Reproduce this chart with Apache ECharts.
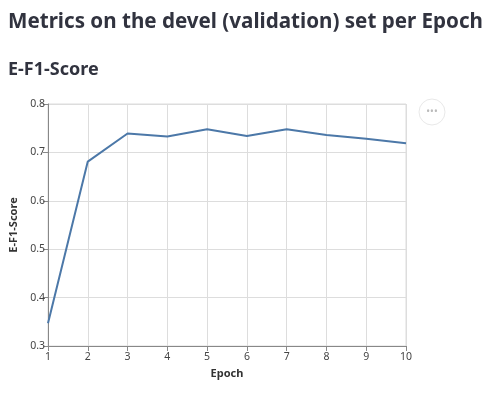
<!DOCTYPE html>
<html lang="en">
<head>
    <meta charset="UTF-8">
    <title>E-F1-Score</title>
    <script src="https://cdn.jsdelivr.net/npm/echarts@6/dist/echarts.min.js"></script>
    <style>
        body { margin: 0; background: #fff; }
        #main { width: 500px; height: 399px; }
    </style>
</head>
<body>
    <div id="main"></div>
    <script>
        var epochs = [1, 2, 3, 4, 5, 6, 7, 8, 9, 10];
        var f1Scores = [0.347, 0.681, 0.739, 0.733, 0.748, 0.734, 0.748, 0.736, 0.728, 0.719];
        var yTicks = [0.3, 0.4, 0.5, 0.6, 0.7, 0.8];

        var myChart = echarts.init(document.getElementById('main'));
        var font = '"Noto Sans", sans-serif';
        var option = {
            animation: false,
            title: [
                {
                    text: 'Metrics on the devel (validation) set per Epoch',
                    left: 3, top: 7,
                    textStyle: { fontFamily: font, fontSize: 20.6, fontWeight: 'bold', color: '#31333f' }
                },
                {
                    text: 'E-F1-Score',
                    left: 3, top: 56,
                    textStyle: { fontFamily: font, fontSize: 18, fontWeight: 'bold', color: '#31333f' }
                }
            ],
            grid: { left: 48, right: 94, top: 104, bottom: 53 },
            xAxis: {
                type: 'value', min: 1, max: 10, interval: 1,
                name: 'Epoch', nameLocation: 'middle', nameGap: 22,
                nameTextStyle: { fontFamily: font, fontSize: 11, fontWeight: 'bold', color: '#333' },
                axisLine: { lineStyle: { color: '#888' } },
                axisTick: { length: 5, lineStyle: { color: '#888' } },
                axisLabel: { fontFamily: font, fontSize: 10.5, color: '#444', margin: 6 },
                splitLine: { lineStyle: { color: '#ddd' } }
            },
            yAxis: {
                type: 'value', min: yTicks[0], max: yTicks[yTicks.length - 1], interval: 0.1,
                name: 'E-F1-Score', nameLocation: 'middle', nameGap: 27,
                nameTextStyle: { fontFamily: font, fontSize: 11, fontWeight: 'bold', color: '#333' },
                axisLine: { show: true, lineStyle: { color: '#888' } },
                axisTick: { show: true, length: 5, lineStyle: { color: '#888' } },
                axisLabel: { fontFamily: font, fontSize: 10.5, color: '#444', margin: 3, formatter: v => v.toFixed(1) },
                splitLine: { lineStyle: { color: '#ddd' } }
            },
            graphic: [
                {
                    type: 'rect', shape: { x: 48, y: 104, width: 358, height: 242 },
                    style: { fill: 'none', stroke: '#ddd', lineWidth: 1 }, silent: true, z: -1
                },
                {
                    type: 'circle', shape: { cx: 432, cy: 112, r: 13 },
                    style: { fill: '#fff', stroke: '#e8e8e8', lineWidth: 1 }
                },
                {
                    type: 'text', x: 432, y: 112,
                    style: { text: '•••', fill: '#bbb', fontSize: 10, fontFamily: font, align: 'center', verticalAlign: 'middle' }
                }
            ],
            series: [
                {
                    type: 'line',
                    data: epochs.map((e, i) => [e, f1Scores[i]]),
                    showSymbol: false,
                    lineStyle: { color: '#4c78a8', width: 2 }
                }
            ]
        };
        option && myChart.setOption(option);
    </script>
</body>
</html>
